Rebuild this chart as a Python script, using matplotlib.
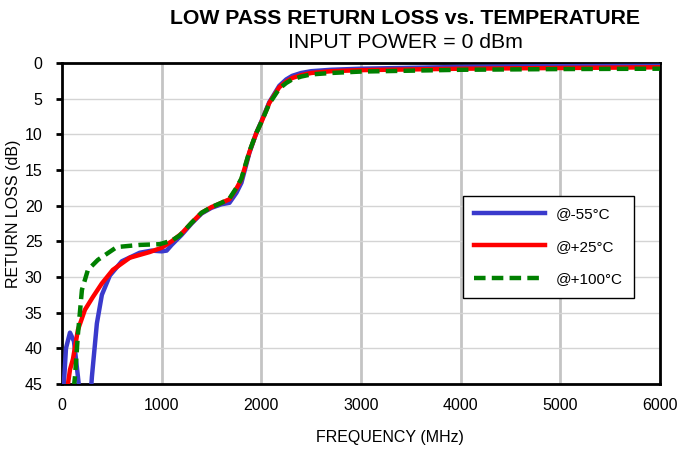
import numpy as np
import matplotlib
matplotlib.use('Agg')
import matplotlib.pyplot as plt

plt.rcParams['font.family'] = ['Liberation Sans', 'DejaVu Sans']

# (MHz, dB)
f_cold = [10, 40, 80, 120, 160, 190, 230, 280, 300, 350, 400, 480, 600, 780, 900, 1000, 1050,
          1100, 1200, 1300, 1400, 1500, 1600, 1680, 1750, 1800, 1880, 1950, 2000, 2080, 2180,
          2250, 2310, 2400, 2500, 2700, 3000, 4000, 5000, 6000]
rl_cold = [47, 40, 37.8, 39, 44, 48, 55, 48, 44, 36.5, 32.5, 29.8, 27.8, 26.6, 26.3, 26.4, 26.3,
           25.5, 24.1, 22.5, 21.1, 20.3, 19.8, 19.6, 18.2, 16.8, 12.6, 9.8, 8.2, 5.5, 3.2,
           2.3, 1.8, 1.4, 1.15, 0.95, 0.8, 0.55, 0.45, 0.4]

f_room = [50, 80, 110, 160, 230, 310, 400, 510, 680, 880, 1000, 1100, 1200, 1300, 1400, 1500,
          1600, 1680, 1750, 1800, 1880, 1950, 2000, 2080, 2180, 2250, 2310, 2400, 2500, 2700,
          3000, 4000, 5000, 6000]
rl_room = [46, 43, 41.5, 37.4, 34.6, 32.8, 30.9, 29, 27.3, 26.5, 25.9, 25.0, 23.9, 22.4, 21.0, 20.2,
           19.6, 19.1, 17.6, 16.3, 12.5, 9.8, 8.3, 5.6, 3.4, 2.6, 2.1, 1.7, 1.4, 1.15,
           1.0, 0.8, 0.7, 0.6]

f_hot = [100, 130, 160, 200, 260, 360, 550, 780, 980, 1100, 1180, 1300, 1400, 1500, 1600, 1680,
         1750, 1800, 1880, 1950, 2000, 2080, 2180, 2250, 2310, 2400, 2500, 2700, 3000, 4000,
         5000, 6000]
rl_hot = [48, 44, 38, 31.8, 29, 27.6, 25.8, 25.5, 25.4, 24.9, 24.2, 22.4, 21.0, 20.2, 19.6, 19.0,
          17.5, 16.2, 12.4, 9.8, 8.3, 5.7, 3.6, 2.8, 2.3, 1.9, 1.6, 1.4, 1.2, 0.95,
          0.85, 0.8]

labels = ['@-55°C', '@+25°C', '@+100°C']

fig = plt.figure(figsize=(6.79, 4.5), dpi=100)
ax = fig.add_axes([62/679, 1-384/450, 598/679, 321/450])

ax.plot(f_cold, rl_cold, color='#3a3acc', lw=3.2, label=labels[0], zorder=3,
        solid_joinstyle='round')
ax.plot(f_room, rl_room, color='#ff0000', lw=3.2, label=labels[1], zorder=4,
        solid_joinstyle='round')
ax.plot(f_hot, rl_hot, color='#008000', lw=3.2, ls=(0, (2.6, 1.4)), label=labels[2], zorder=5)

ax.set_xlim(0, 6000)
ax.set_ylim(45, 0)
ax.set_xticks(range(0, 6001, 1000))
ax.set_yticks(range(0, 46, 5))
for x in range(1000, 6000, 1000):
    ax.axvline(x, color='#c4c4c4', lw=2, zorder=1)
for y in range(5, 45, 5):
    ax.axhline(y, color='#d4d4d4', lw=1, zorder=1)

for s in ax.spines.values():
    s.set_linewidth(2)
    s.set_color('black')
ax.tick_params(axis='y', direction='out', length=4, width=2, labelsize=11.5, pad=10)
ax.tick_params(axis='x', length=0, labelsize=11.5, pad=10)

ax.set_xlabel('FREQUENCY (MHz)', fontsize=11.5)
ax.set_ylabel('RETURN LOSS (dB)', fontsize=11.5)
ax.xaxis.set_label_coords((390-62)/598, -(430-384)/321)
ax.yaxis.set_label_coords(-(62-21)/598, 1-(214-63)/321)

fig.text(405/679, 1-18/450, 'LOW PASS RETURN LOSS vs. TEMPERATURE', ha='center', va='center',
         fontsize=15.3, fontweight='bold')
fig.text(405/679, 1-43/450, 'INPUT POWER = 0 dBm', ha='center', va='center', fontsize=15.3)

leg = ax.legend(loc='upper left', bbox_to_anchor=((463-62)/598, 1-(196-63)/321), fontsize=11,
                handlelength=4.6, labelspacing=1.2, borderpad=0.75, handletextpad=0.7,
                frameon=True, fancybox=False, framealpha=1, borderaxespad=0)
leg.get_frame().set_edgecolor('black')
leg.get_frame().set_linewidth(1)

fig.savefig('out.png', dpi=100)
